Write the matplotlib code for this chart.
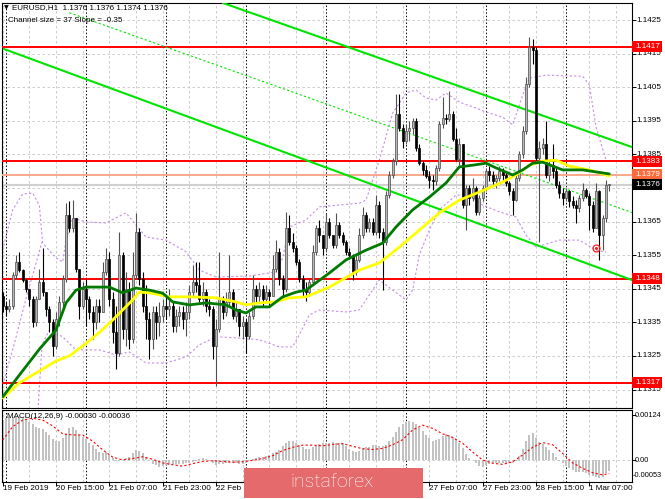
import matplotlib
matplotlib.use("Agg")
import matplotlib.pyplot as plt
from matplotlib.patches import Rectangle
import numpy as np

# ---------------- data ----------------
symbol_header = "EURUSD,H1  1.1376 1.1376 1.1374 1.1376"
channel_header = "Channel size = 37 Slope = -0.35"
macd_header = "MACD(12,26,9) -0.00030 -0.00036"

# time labels visible in the chart (the ones under the logo are hidden)
time_label_bars = [0, 16, 32, 48, 64, 128, 144, 160, 176]
time_labels = ["19 Feb 2019", "20 Feb 15:00", "21 Feb 07:00", "21 Feb 23:00",
               "22 Feb 15:00", "27 Feb 07:00", "27 Feb 23:00", "28 Feb 15:00",
               "1 Mar 07:00"]
day_separator_bars = [1, 25, 49, 73, 97, 121, 145, 169]

base_price = 1.1300
first_open = 43  # pips above base
closes = [40,39,40,49,53,50.6,47.6,45,42,35,
          42,47,44,39,35,28,36,41,48,67,
          63,66,51,40,45,42,38,35,40,38,
          50,54,42,32,26,55,33,45,30,49,
          62,48,40,36,30,38,35,37,40,39,
          40,34,37,38,36,38,44,47,46,42,
          44,40,39,28,33,42,38,41,44,37,
          39,34,35,31,37,45,43,45,42,44,
          43,51,56,48,45,63,59,57,53,48,
          45,44,47,56,63,61,57,65,61,58,
          64,61,59,56,55,50,53.5,61,67,63,
          65,62,70,62,59,73,79,83,97,93,
          89,92,93,95,87,82.5,80.5,78.5,77.5,77,
          81,94,96,95.5,97,89.5,83.5,88,70,75,
          72,75,68,72,75,80,79,77,78,80,
          79,76.5,74,71.5,78,85,92,106,117,116,
          84,87,88,79,82,80,76,73.5,72,74,
          71,70,69,72,74.5,72.5,70,63,74,61,
          66,76,76]
highs = [44,41,42,50,55,56,51,48,45,43,
         43,51,57,44,40,36,38,43,49,70.5,
         71,71.5,66,51,47,48,43,40,42,42,
         53,57,56,44,40,62,56,50,47,56,
         67.5,63,50,46,38,40,40,41,42,43,
         45,41,39,40,40,41,46,52,53,53,
         47,45,42,40,36,56,43,44,55,45,
         41,39,37,36,38,49,46,47,46,46,
         45,55,59.5,57,49,68,67,61.5,58,54,
         49,47,48,58,64,65.5,61,67.5,66,61,
         67.5,65,62,59.5,57,55.5,55,63,69.5,68,
         66,66,73,71,63,74,80,84,103,103,
         94,94,95,96,96,88,83,82,80,79,
         82,95,102,97,104,98,93,90,88,76,
         76,78,75.5,73,76,81,81.5,80,79,81.5,
         81,80,77,75,79,86,93.5,108,120,119.5,
         117,89,90,95,83,88,81,77,75,75,
         74.5,72.5,71.5,73,76.5,75,73.5,71,76.5,74.5,
         67,77.5,76]
lows = [38,37,38,39,48,50,47,44,40,33.5,
        34,42,43,37,32,25,27,34,39,47,
        62,62,50,36,39,34,36,30,33,35,
        38,49,40,29,21,25,30,28,27,29,
        48,46,38,30,24,27,30,31,35,36,
        37,32,32,34,33,31,36,43,44,41,
        40,38,37,24,16,32,36,37,40,36,
        35,31,30,26,30,36,41,41,40,41,
        40,43,50,46,42,44,58,56,52,47,
        43,41.5,43,46,55,59,55,56,60,57,
        57,60,58,55,54,47.6,49,53,60,62,
        62,61,61,60,44.6,58,72,78,82,92,
        87,88,89,91,86,82,79,78,75,74.5,
        76,80,93,94,95,89,83,82,69,62.5,
        70,71,67,67,71,74,77,76,75,77,
        77,75.5,73,67,71,77,84,91,105,112,
        83,59,85,78,77,78,75,72,70,71,
        69.5,69,64.6,68,71,72,62.5,62,63,53.6,
        56.5,65,74]

# moving averages (bar index, pips)
ma_fast_bars = [0,5,11,16,19,22,25,32,36,40,44,48,51,56,61,67,70,73,76,80,84,88,91,98,103,
                109,114,118,123,128,133,137,141,145,148,153,156,159,162,168,174,180,182]
ma_fast_pips = [12.8,19.3,27.0,32.7,40.8,44.6,45.5,45.5,43.8,45.2,44.6,43.7,41.1,40.2,40.8,
                40.2,38.7,37.8,39.6,39.6,42.6,44.0,44.6,49.7,53.6,56.5,58.6,63.4,68.5,72.3,
                76.5,81.3,81.8,82.4,81.0,78.9,80.4,82.4,82.7,80.4,80.4,79.5,79.2]
ma_slow_bars = [0,5,11,16,20,26,29,33,39,41,44,50,57,64,70,73,77,82,86,91,98,107,113,119,
                125,131,137,143,150,154,158,162,166,170,176,182]
ma_slow_pips = [12.5,17.0,20.5,23.5,25.0,29.5,32.0,35.7,41.7,44.0,43.8,42.6,42.6,42.3,41.1,
                40.2,40.8,41.1,42.3,42.6,45.5,50.6,52.7,57.4,62.5,67.6,71.4,73.8,76.8,78.9,
                81.8,83.0,83.3,81.5,80.4,78.6]

# band lines (bar index, pips)
band_upper_bars = [0,3,6,9,11,12,16,18,19,21,25,31,37,40,43,49,55,59,64,74,82,84,86,91,95,
                   107,109,113,117,121,124,127,130,133,137,142,146,150,153,156,158,163,174,
                   176,178,181]
band_upper_pips = [56.5,68.5,73.2,73.5,69.9,58.6,54.2,53.0,59.5,66.1,64.9,64.6,67.6,64.0,60.4,
                   59.5,56.0,50.6,48.5,48.8,50.0,54.2,63.4,65.5,69.4,70.5,71.4,83.3,97.3,103.3,
                   104.2,101.8,101.2,103.3,100.6,98.8,97.3,96.1,93.8,102.7,107.7,108.6,108.3,
                   105.7,93.2,83.3]
band_left_bars = [0, 3.4, 7.3, 11.8]
band_left_pips = [16.4, 28.3, 43.2, 58.9]
band_lower_bars = [10.6,11.8,14,18,22,29,34,38,43,49,55,59,64,70,77,83,87,89,92,95,103,107,
                   110,113,117,121,123,125,128,131,136,140,144,149,154,157,160,167,173,178,181]
band_lower_pips = [9.0,28.3,32.7,30.7,26.8,26.8,25.3,26.2,22.9,22.9,24.7,28.3,30.7,30.4,29.8,
                   27.7,27.7,31.3,37.2,38.7,38.1,38.7,43.2,47.6,44.6,41.7,44.6,55.1,62.5,68.5,
                   72.9,72.9,69.9,67.9,66.4,61.0,57.4,59.5,59.5,56.5,55.9]

# regression channel anchors (bar index, price)
channel_upper = [(66.1, 1.14301), (188.8, 1.13872)]
channel_lower = [(0.4, 1.14164), (188.8, 1.13476)]
channel_mid = [(20.0, 1.14272), (188.8, 1.13677)]

# horizontal levels
red_levels = [1.1417, 1.1383, 1.1348, 1.1317]
ma_level = 1.1379
bid_level = 1.1376
price_grid = [1.1315, 1.1325, 1.1335, 1.1345, 1.1355, 1.1365, 1.1375,
              1.1385, 1.1395, 1.1405, 1.1415, 1.1425]
price_tick_labels = [1.1315, 1.1325, 1.1335, 1.1345, 1.1355, 1.1365,
                     1.1385, 1.1395, 1.1405, 1.1415, 1.1425]

signal_mark = (178, 1.13571)

# MACD (units of 1e-5)
macd_hist = [110,115,119,119,119,118,115,110,104,98,
             92,88,85,78,68,58,52,52,60,73,
             88,90,82,70,64,58,48,40,30,22,
             20,22,14,5,-2,-3,0,5,8,18,
             28,25,18,8,-3,-10,-14,-18,-17,-14,
             -13,-12,-11,-10,-10,-9,-8,-5,-2,3,
             5,2,-2,-8,-14,-12,-10,-9,-9,-9,
             -9,-10,-10,-8,-3,2,5,7,9,11,
             14,18,23,28,38,46,53,52,47,41,
             35,31,29,35,38,44,46,48,48,50,
             47,46,46,38,30,25,23,26,32,35,
             37,40,41,38,38,42,53,64,76,90,
             100,106,108,106,98,89,80,70,62,52,
             54,59,66,71,70,64,57,47,32,16,
             6,0,-9,-16,-18,-15,-10,-9,-9,-9,
             -9,-9,-9,-7,-2,12,30,53,69,75,
             62,51,44,36,28,18,9,-2,-9,-16,
             -23,-28,-32,-32,-34,-37,-41,-44,-46,-50,
             -46,-37,-30]
macd_signal_bars = list(range(0, 181, 3)) + [182]
macd_signal = [55,92,110,115,110,94,72,69,69,52,
               28,8,0,4,9,2,-8,-13,-17,-10,
               -4,-2,-4,-6,-5,-1,4,12,26,35,
               41,41,39,43,45,38,31,29,32,42,
               56,83,96,87,72,62,46,22,0,-9,
               -12,-5,14,35,48,42,18,-8,-23,-35,
               -41,-37]
macd_top_label = 124
macd_bottom_label = -53

# ---------------- figure ----------------
plt.rcParams['font.family'] = ['Liberation Sans', 'DejaVu Sans']
W, H = 665, 499
fig = plt.figure(figsize=(W / 100, H / 100), dpi=100)
fig.patch.set_facecolor('white')


def box(l, t, r, b):
    return [l / W, 1 - b / H, (r - l) / W, (b - t) / H]


ax = fig.add_axes(box(2, 3, 632, 408))
axm = fig.add_axes(box(2, 410, 632, 482))

xlim = (-0.2, 188.8)
for a in (ax, axm):
    a.set_xlim(*xlim)
    a.set_facecolor('white')
    for s in a.spines.values():
        s.set_color('black')
        s.set_linewidth(0.8)

ax.set_ylim(1.13095, 1.14301)
axm.set_ylim(-60.6e-5, 137.8e-5)

grid_kw = dict(color='#c4c4c4', lw=0.6, ls=(0, (3, 3)), zorder=0)
for a in (ax, axm):
    for b in range(0, 189, 8):
        a.axvline(b, **grid_kw)
    for b in day_separator_bars:
        a.axvline(b, color='black', lw=0.7, ls=(0, (1.5, 2)), zorder=0.5)
for p in price_grid:
    ax.axhline(p, **grid_kw)
axm.axhline(0, **grid_kw)

# horizontal levels
for lv in red_levels:
    ax.axhline(lv, color='#ff0000', lw=1.4, zorder=3)
ax.axhline(ma_level, color='#f8a88c', lw=1.4, zorder=3)
ax.axhline(bid_level, color='#d0d0d0', lw=1.5, zorder=1)

# channel
lime = '#00e400'
for seg, kw in ((channel_upper, dict(lw=1.5)), (channel_lower, dict(lw=1.5)),
                (channel_mid, dict(lw=0.8, ls=(0, (2, 2))))):
    ax.plot([seg[0][0], seg[1][0]], [seg[0][1], seg[1][1]], color=lime, zorder=4, **kw)


def pips(v):
    return base_price + np.asarray(v) / 10000.0


band_kw = dict(color='#c58ee8', lw=0.8, ls=(0, (2, 2)), zorder=2)
ax.plot(band_upper_bars, pips(band_upper_pips), **band_kw)
ax.plot(band_left_bars, pips(band_left_pips), **band_kw)
ax.plot(band_lower_bars, pips(band_lower_pips), **band_kw)

# candles
opens = [first_open] + closes[:-1]
bw = 0.64
for i, (o, h, l, c) in enumerate(zip(opens, highs, lows, closes)):
    bull = c >= o
    wick_col = '#505050' if bull else 'black'
    ax.vlines(i, pips(l), pips(h), color=wick_col, lw=0.8, zorder=5)
    lo, hi = min(o, c), max(o, c)
    hgt = max(hi - lo, 0.3) / 10000.0
    if bull:
        rect = Rectangle((i - bw / 2, pips(lo)), bw, hgt, facecolor='#b8b8b8',
                         edgecolor='#4a4a4a', lw=0.5, zorder=6)
    else:
        rect = Rectangle((i - bw / 2, pips(lo)), bw, hgt, facecolor='black',
                         edgecolor='black', lw=0.5, zorder=6)
    ax.add_patch(rect)

# moving averages
ax.plot(ma_slow_bars, pips(ma_slow_pips), color='#ffff00', lw=2.0, zorder=7,
        solid_capstyle='round')
ax.plot(ma_fast_bars, pips(ma_fast_pips), color='#007a00', lw=2.0, zorder=8,
        solid_capstyle='round')

# signal marker
ax.plot([signal_mark[0]], [signal_mark[1]], marker='o', ms=5, mfc='none',
        mec='#ff2020', mew=0.9, zorder=9)
ax.plot([signal_mark[0]], [signal_mark[1]], marker='o', ms=1.2, color='#ff2020', zorder=9)

# MACD
axm.bar(range(len(macd_hist)), np.asarray(macd_hist) * 1e-5, width=bw,
        color='#c2c2c2', zorder=2)
axm.plot(macd_signal_bars, np.asarray(macd_signal) * 1e-5, color='#ff0000',
         lw=0.8, ls=(0, (2, 2)), zorder=3)

# ticks
ax.set_xticks([])
ax.set_yticks(price_grid)
ax.tick_params(axis='y', left=False, right=True, labelleft=False, labelright=False,
               length=3, width=0.7, color='black')
axm.set_yticks([macd_top_label * 1e-5, 0])
axm.tick_params(axis='y', left=False, right=True, labelleft=False, labelright=False,
                length=3, width=0.7)
axm.set_xticks(time_label_bars)
axm.tick_params(axis='x', bottom=True, labelbottom=False, length=3, width=0.7)

lab_fs = 5.9
ytr = ax.get_yaxis_transform()
for p in price_tick_labels:
    ax.text(1.0064, p, f"{p:.4f}", transform=ytr, fontsize=lab_fs, va='center',
            ha='left', color='black', clip_on=False)

box_h = 11 / 33600
box_w = 30 / 630
for lv, col in [(l_, '#ff0000') for l_ in red_levels] + [(ma_level, '#ff6a3a'), (bid_level, 'black')]:
    ax.add_patch(Rectangle((1.0, lv - box_h / 2), box_w, box_h, transform=ytr,
                           facecolor=col, edgecolor='none', clip_on=False, zorder=10))
    ax.text(1.0048, lv, f"{lv:.4f}", transform=ytr, fontsize=lab_fs, va='center',
            ha='left', color='white', clip_on=False, zorder=11)

ymt = axm.get_yaxis_transform()
macd_fs = 5.3
axm.text(1.0045, macd_top_label * 1e-5, f"{macd_top_label * 1e-5:.5f}", transform=ymt,
         fontsize=macd_fs, va='center', ha='left', clip_on=False)
axm.text(1.0045, 0, "0.00", transform=ymt, fontsize=macd_fs, va='center', ha='left',
         clip_on=False)
axm.text(1.0016, macd_bottom_label * 1e-5, f"{macd_bottom_label * 1e-5:.5f}", transform=ymt,
         fontsize=macd_fs, va='bottom', ha='left', clip_on=False)

xtr = axm.get_xaxis_transform()
for b, t in zip(time_label_bars, time_labels):
    axm.text(b, -0.097, t, transform=xtr, fontsize=lab_fs, va='center', ha='left',
             clip_on=False)

# headers
fig.text(4 / W, 1 - 8 / H, "\u25bc", fontsize=4.5, va='center', ha='left',
         family=['DejaVu Sans'])
fig.text(12 / W, 1 - 8 / H, symbol_header, fontsize=5.8, va='center', ha='left')
fig.text(8 / W, 1 - 20 / H, channel_header, fontsize=5.8, va='center', ha='left')
axm.text(5 / 630, 1 - 7 / 72, macd_header, transform=axm.transAxes, fontsize=5.8,
         va='center', ha='left', zorder=10)

# watermark
fig.add_artist(Rectangle((244 / W, 1 - 498 / H), (423 - 244) / W, 30 / H,
                         transform=fig.transFigure, facecolor='#e46a6c',
                         edgecolor='none', zorder=20))
fig.text(332 / W, 1 - 482 / H, "instaforex", color='white', fontsize=14,
         family=['Roboto', 'DejaVu Sans'], weight='light', ha='center', va='center',
         zorder=21)

fig.savefig("out.png", dpi=100, facecolor='white')
